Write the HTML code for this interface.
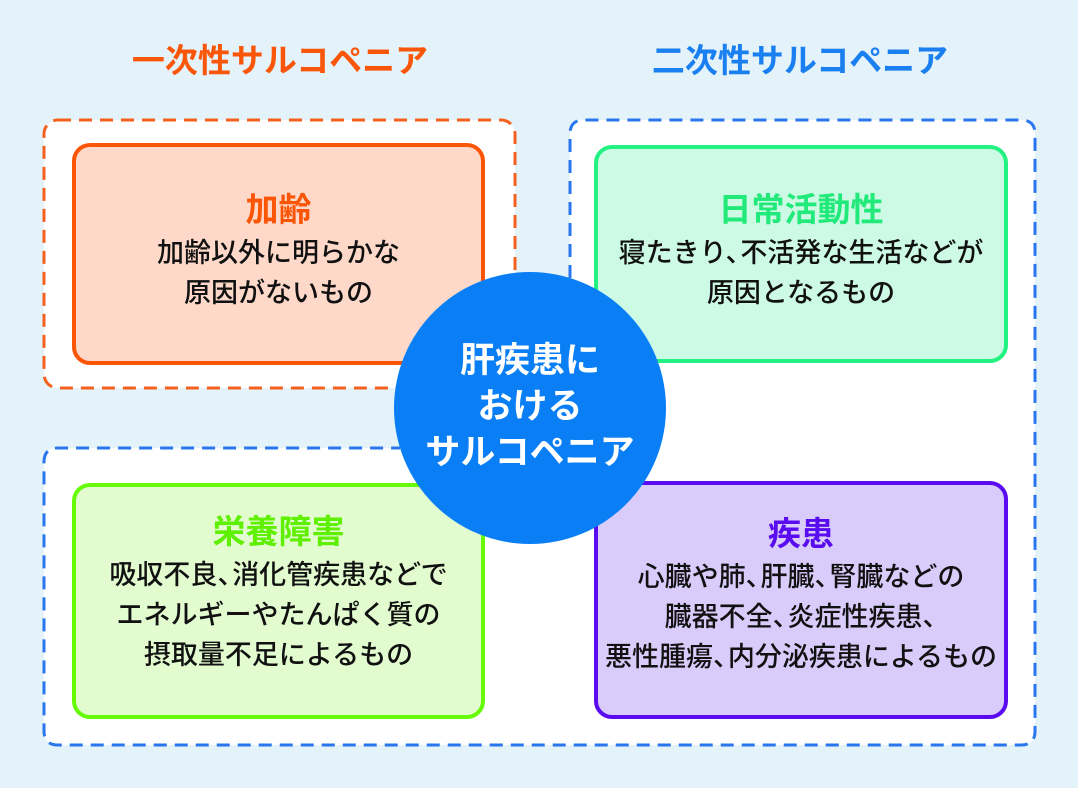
<!DOCTYPE html>
<html><head><meta charset="utf-8"><style>
html,body{margin:0;padding:0}
body{width:1078px;height:788px;background:#e3f3f9;position:relative;overflow:hidden;font-family:"Liberation Sans","Noto Sans CJK JP",sans-serif}
.h{position:absolute;top:34px;font-size:33px;font-weight:bold;text-align:center;width:440px}
.box{position:absolute;border:4px solid;border-radius:18px;box-sizing:border-box;text-align:center;color:#111;font-size:27px;line-height:40px;font-weight:500;white-space:nowrap}
.box b{display:block;font-size:33px;margin-bottom:2px;line-height:42px;font-weight:bold}
.c{margin-right:-0.45em}
.circ{position:absolute;left:394px;top:272px;width:272px;height:272px;border-radius:50%;background:#0a7ff5;color:#fff;font-weight:bold;font-size:35px;line-height:46px;text-align:center;box-sizing:border-box;padding-top:66px;white-space:nowrap}
</style></head><body>
<div class="h" style="left:60px;color:#fa560a">一次性サルコペニア</div>
<div class="h" style="left:580px;color:#1a7ff0">二次性サルコペニア</div>
<svg width="1078" height="788" style="position:absolute;left:0;top:0">
<rect x="44" y="120" width="471" height="268" rx="14" fill="#fff" stroke="#f4601e" stroke-width="3" stroke-dasharray="13 8"/>
<path d="M570,278 V134 Q570,120 584,120 H1021 Q1035,120 1035,134 V731 Q1035,745 1021,745 H58 Q44,745 44,731 V462 Q44,448 58,448 H400" fill="#fff" stroke="#2a76ee" stroke-width="3" stroke-dasharray="13 8"/>
<path d="M400,448 L530,448 L570,278 Z" fill="#fff"/>
</svg>
<div class="box" style="left:72px;top:143px;width:413px;height:222px;background:#fed9c9;border-color:#fb5508;padding-top:42px"><b style="color:#fb5508">加齢</b>加齢以外に明らかな<br>原因がないもの</div>
<div class="box" style="left:594px;top:145px;width:414px;height:218px;background:#cdfae5;border-color:#22f282;padding-top:40px"><b style="color:#22ea7a">日常活動性</b>寝たきり<span class="c">、</span>不活発な生活などが<br>原因となるもの</div>
<div class="box" style="left:72px;top:483px;width:413px;height:236px;background:#e2fcd0;border-color:#66fa05;padding-top:24px"><b style="color:#5ef000">栄養障害</b>吸収不良<span class="c">、</span>消化管疾患などで<br>エネルギーやたんぱく質の<br>摂取量不足によるもの</div>
<div class="box" style="left:594px;top:481px;width:414px;height:238px;background:#d9ccfb;border-color:#5a0cf0;padding-top:28px"><b style="color:#5a0cf0">疾患</b>心臓や肺<span class="c">、</span>肝臓<span class="c">、</span>腎臓などの<br>臓器不全<span class="c">、</span>炎症性疾患<span class="c">、</span><br>悪性腫瘍<span class="c">、</span>内分泌疾患によるもの</div>
<div class="circ">肝疾患に<br>おける<br>サルコペニア</div>
</body></html>
